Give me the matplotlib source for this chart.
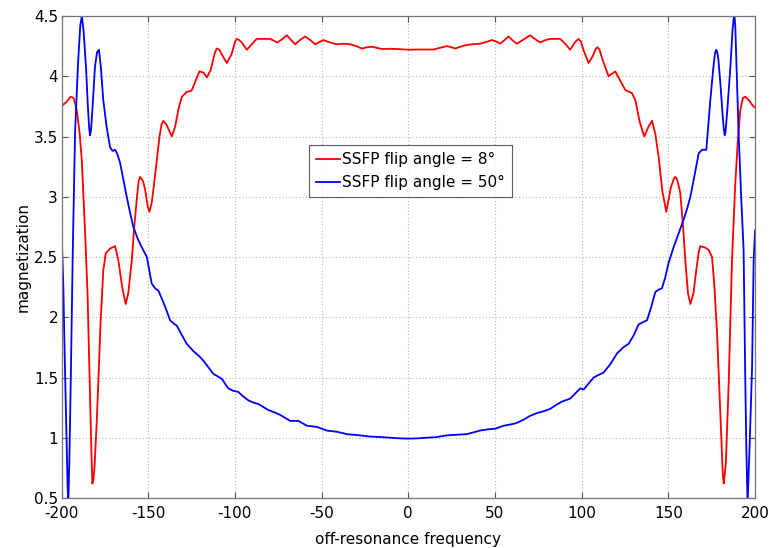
import matplotlib
matplotlib.use("Agg")
import matplotlib.pyplot as plt

# values
red_x = [-200, -197, -194.7, -193, -191.2, -189.5, -188.3, -186.4, -185, -183.5,
         -182.7, -182.2, -181.6, -181, -179.8, -178.8, -177.5, -175.9, -174.5, -172,
         -169.1, -167.2, -165, -163, -161.5, -159.5, -158, -156.4, -155.5, -154.7,
         -153, -151.8, -150.3, -149.3, -148, -146.5, -145.1, -143.5, -142.3, -141.3,
         -139.5, -136.4, -134.5, -132.5, -130.6, -127.8, -125, -123, -120.5, -118,
         -116.2, -114, -111.5, -110.4, -109, -107.5, -104.7, -102, -99.8, -98.9,
         -97.5, -96, -93.1, -90, -87.4, -83, -79.7, -75.5, -72.5, -70.1,
         -67.5, -65.3, -62.5, -59.5, -56.5, -53.7, -50.5, -48.9, -45, -41.2,
         -37, -33.5, -30, -26.8, -24, -21, -18, -15.2, -10, -5,
         0, 5, 10, 14.5, 18, 22.3, 25, 27.1, 30, 33.8,
         37, 41.5, 45, 48.2, 50.5, 53, 55.5, 57.8, 60, 62.7,
         66, 70.3, 73, 76.1, 79, 81.9, 87.6, 90.5, 93.4, 96,
         97.4, 98.2, 99.5, 101, 104, 106.5, 108.2, 109.2, 110.3, 112,
         115.5, 117.5, 119.4, 122, 125.2, 129, 131, 133.5, 136.1, 138.5,
         140.6, 142.5, 144.4, 146.5, 148.8, 151.5, 153.2, 154, 154.8, 155.5,
         156.9, 158.5, 159.8, 161.3, 162.7, 164.5, 166, 167.5, 168.4, 171,
         173.2, 175.2, 176.6, 178.1, 180, 181.4, 181.9, 182.4, 183.2, 184.8,
         185.8, 186.7, 188.6, 190, 191.5, 193, 194.4, 196.5, 198.5, 200]
red_y = [3.75, 3.79, 3.83, 3.82, 3.72, 3.52, 3.30, 2.70, 2.20, 1.30,
         0.85, 0.62, 0.66, 0.75, 1.10, 1.45, 1.95, 2.39, 2.53, 2.57,
         2.59, 2.47, 2.25, 2.11, 2.20, 2.47, 2.76, 3.01, 3.13, 3.165,
         3.13, 3.06, 2.92, 2.875, 2.95, 3.12, 3.30, 3.50, 3.60, 3.63,
         3.60, 3.50, 3.58, 3.73, 3.83, 3.87, 3.88, 3.95, 4.04, 4.03,
         3.99, 4.05, 4.20, 4.23, 4.22, 4.18, 4.11, 4.18, 4.29, 4.31,
         4.30, 4.28, 4.22, 4.27, 4.31, 4.31, 4.31, 4.28, 4.31, 4.34,
         4.30, 4.265, 4.30, 4.33, 4.30, 4.265, 4.29, 4.30, 4.28, 4.265,
         4.27, 4.265, 4.25, 4.23, 4.24, 4.245, 4.235, 4.226, 4.228, 4.225,
         4.22, 4.222, 4.222, 4.222, 4.235, 4.25, 4.24, 4.23, 4.245, 4.26,
         4.265, 4.27, 4.285, 4.30, 4.29, 4.27, 4.30, 4.33, 4.30, 4.27,
         4.30, 4.34, 4.31, 4.28, 4.30, 4.31, 4.31, 4.27, 4.22, 4.28,
         4.30, 4.31, 4.29, 4.22, 4.11, 4.17, 4.23, 4.24, 4.22, 4.14,
         4.00, 4.02, 4.04, 3.97, 3.885, 3.86, 3.80, 3.62, 3.50, 3.58,
         3.63, 3.52, 3.33, 3.05, 2.875, 3.08, 3.15, 3.165, 3.15, 3.12,
         3.03, 2.75, 2.47, 2.20, 2.11, 2.20, 2.38, 2.54, 2.59, 2.58,
         2.56, 2.50, 2.25, 1.865, 1.20, 0.70, 0.62, 0.68, 0.80, 1.45,
         2.00, 2.47, 3.11, 3.45, 3.72, 3.82, 3.83, 3.80, 3.76, 3.74]

blue_x = [-200, -199, -198.2, -197.4, -196.5, -196.1, -195.5, -194.7, -193.5, -192.2,
          -190.5, -189.2, -188.3, -187.3, -185.9, -184.8, -184.1, -183.6, -183, -182.3,
          -180.7, -179.5, -178.4, -177.3, -175.9, -174, -172, -170.5, -169.1, -167.7,
          -166.2, -164.3, -162.4, -160.5, -158.6, -156, -153.7, -150.8, -149.5, -148,
          -146, -144.1, -142.3, -140.3, -137.4, -135.5, -133.5, -130.5, -127.8, -124,
          -120.1, -118.2, -115, -112.4, -110, -107.6, -103.8, -101, -98, -95,
          -92.2, -89, -86.4, -80.7, -77, -73.9, -68.1, -63.4, -58.5, -52.7,
          -47, -41.2, -35.4, -27.8, -22, -15, -10.4, -5, 0, 5,
          10, 16, 22.3, 28, 33.8, 41.5, 46, 50.2, 55, 58.8,
          62, 66.5, 70, 74.2, 78, 81.9, 85, 88.6, 93.4, 96.5,
          99.2, 101.1, 104, 106.9, 109.5, 112.6, 116.5, 120.4, 124, 127.1,
          130, 132.8, 135.5, 137.7, 140, 142.5, 144.5, 146.3, 148.2, 150.1,
          153, 156, 158.8, 160.8, 162.7, 165, 167.5, 169.4, 171.9, 174.2,
          175.8, 176.8, 177.5, 178.2, 178.8, 180, 181.3, 182, 182.5, 183,
          184, 185.8, 187, 187.7, 188.1, 188.6, 189.3, 190.5, 192, 193.4,
          194.4, 195, 195.7, 196.8, 198.3, 199.2, 200]
blue_y = [2.72, 2.28, 1.70, 1.17, 0.60, 0.45, 0.80, 1.45, 2.56, 3.53,
          4.10, 4.42, 4.50, 4.38, 4.08, 3.75, 3.58, 3.51, 3.55, 3.70,
          4.08, 4.20, 4.22, 4.07, 3.80, 3.58, 3.41, 3.38, 3.39, 3.35,
          3.28, 3.14, 3.00, 2.87, 2.75, 2.65, 2.58, 2.50, 2.40, 2.28,
          2.24, 2.22, 2.16, 2.09, 1.975, 1.95, 1.93, 1.85, 1.78, 1.72,
          1.67, 1.64, 1.58, 1.53, 1.51, 1.49, 1.41, 1.39, 1.38, 1.34,
          1.31, 1.29, 1.28, 1.23, 1.21, 1.19, 1.14, 1.14, 1.10, 1.09,
          1.06, 1.05, 1.03, 1.02, 1.01, 1.005, 1.00, 0.995, 0.993, 0.995,
          1.00, 1.005, 1.02, 1.025, 1.03, 1.06, 1.07, 1.075, 1.10, 1.11,
          1.12, 1.15, 1.18, 1.205, 1.22, 1.24, 1.27, 1.30, 1.325, 1.37,
          1.41, 1.40, 1.45, 1.50, 1.52, 1.54, 1.61, 1.70, 1.75, 1.78,
          1.85, 1.94, 1.96, 1.975, 2.08, 2.21, 2.23, 2.24, 2.33, 2.45,
          2.58, 2.70, 2.81, 2.90, 3.00, 3.17, 3.36, 3.39, 3.39, 3.80,
          4.05, 4.18, 4.22, 4.20, 4.15, 3.94, 3.68, 3.56, 3.51, 3.54,
          3.72, 4.08, 4.38, 4.48, 4.50, 4.42, 4.10, 3.53, 3.00, 2.56,
          1.45, 0.90, 0.45, 0.90, 1.59, 2.47, 2.72]

x_ticks = [-200, -150, -100, -50, 0, 50, 100, 150, 200]
y_ticks = [0.5, 1, 1.5, 2, 2.5, 3, 3.5, 4, 4.5]
y_tick_labels = ["0.5", "1", "1.5", "2", "2.5", "3", "3.5", "4", "4.5"]
series_labels = ["SSFP flip angle = 8°", "SSFP flip angle = 50°"]

plt.rcParams["font.family"] = ["DejaVu Sans"]

fig = plt.figure(figsize=(7.71, 5.48), dpi=100)
ax = fig.add_axes([0.0798, 0.0912, 0.8995, 0.8796])

ax.plot(red_x, red_y, color="#ff0000", lw=1.3, label=series_labels[0])
ax.plot(blue_x, blue_y, color="#0000ff", lw=1.3, label=series_labels[1])

ax.set_xlim(-200, 200)
ax.set_ylim(0.5, 4.5)
ax.set_xticks(x_ticks)
ax.set_xticklabels([str(v) for v in x_ticks])
ax.set_yticks(y_ticks)
ax.set_yticklabels(y_tick_labels)

ax.grid(True, color="#b4b4b4", linestyle=(0, (1, 2)), linewidth=0.8)
ax.tick_params(direction="in", length=4, width=0.8, color="#555555",
               top=True, right=True, labelsize=11, labelcolor="black")
ax.tick_params(axis="x", pad=5.5)
ax.tick_params(axis="y", pad=2.5)
for s in ax.spines.values():
    s.set_color("#777777")
    s.set_linewidth(0.9)

ax.set_xlabel("off-resonance frequency", fontsize=11, labelpad=8)
ax.set_ylabel("magnetization", fontsize=11, labelpad=2)

leg = ax.legend(loc="upper left", bbox_to_anchor=(0.357, 0.732), borderaxespad=0,
                fontsize=11, frameon=True, fancybox=False, handlelength=1.6,
                handletextpad=0.1, borderpad=0.45, labelspacing=0.55)
leg.get_frame().set_edgecolor("#333333")
leg.get_frame().set_linewidth(0.8)

fig.savefig("out.png", dpi=100)
